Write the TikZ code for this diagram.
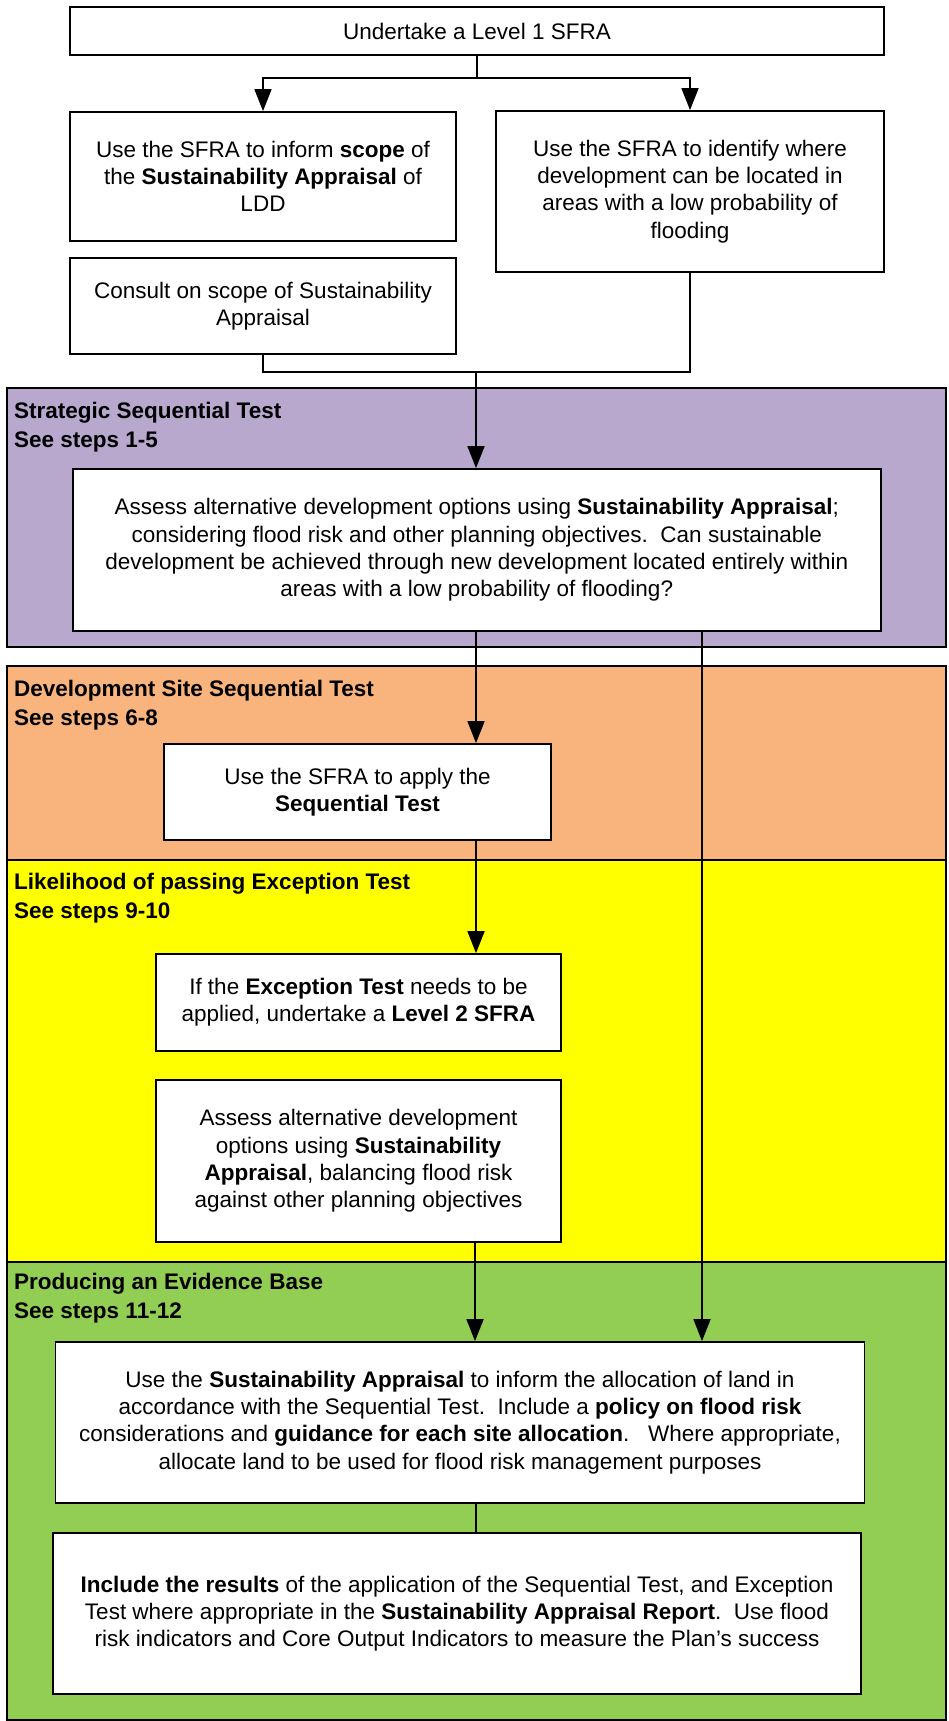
\documentclass[tikz,border=0pt]{standalone}
\usepackage{fontspec}
\setmainfont{Liberation Sans}
\usetikzlibrary{arrows.meta, positioning, calc}
\definecolor{panelpurple}{RGB}{184,168,206}
\definecolor{panelorange}{RGB}{248,180,124}
\definecolor{panelyellow}{RGB}{255,255,0}
\definecolor{panelgreen}{RGB}{146,206,84}

\begin{document}
\begin{tikzpicture}[x=1pt,y=-1pt,
  stepbox/.style={draw=black,line width=1.8pt,fill=white,inner sep=0pt,align=center,
    font=\fontsize{22.5}{27.3}\selectfont},
  panel/.style={draw=black,line width=1.8pt},
  heading/.style={anchor=west,align=left,inner sep=0pt,
    font=\fontsize{22.5}{28.5}\selectfont\bfseries},
  link/.style={line width=1.8pt},
  flow/.style={link,-{Triangle[length=22pt,width=17pt]}}]
\useasboundingbox (0,0) rectangle (948,1721);
% Stage panels
\draw[panel,fill=panelpurple] (7,388) rectangle (946,647);
\draw[panel,fill=panelorange] (7,666) rectangle (946,860);
\draw[panel,fill=panelyellow] (7,860) rectangle (946,1262);
\draw[panel,fill=panelgreen] (7,1262) rectangle (946,1720);
\node[heading] (hstrat) at (14,427) {Strategic Sequential Test\\See steps 1-5};
\node[heading] (hsite) at (14,705) {Development Site Sequential Test\\See steps 6-8};
\node[heading] (hexcept) at (14,898) {Likelihood of passing Exception Test\\See steps 9-10};
\node[heading] (hevid) at (14,1298) {Producing an Evidence Base\\See steps 11-12};
% Level 1 stage
\node[stepbox,minimum width=814pt,minimum height=48pt] (lvl1) at (477,31) {Undertake a Level 1 SFRA};
\node[stepbox,minimum width=386pt,minimum height=129pt] (scope) at (263,176.5)
  {Use the SFRA to inform \textbf{scope} of\\the \textbf{Sustainability Appraisal} of\\LDD};
\node[stepbox,minimum width=388pt,minimum height=161pt] (locate) at (690,191.5)
  {Use the SFRA to identify where\\development can be located in\\areas with a low probability of\\flooding};
\node[stepbox,minimum width=386pt,minimum height=96pt] (consult) at (263,306)
  {Consult on scope of Sustainability\\Appraisal};
% Test stages
\node[stepbox,minimum width=808pt,minimum height=162pt] (assess) at (476.75,550)
  {Assess alternative development options using \textbf{Sustainability Appraisal};\\
   considering flood risk and other planning objectives.\ \ Can sustainable\\
   development be achieved through new development located entirely within\\
   areas with a low probability of flooding?};
\node[stepbox,minimum width=387pt,minimum height=96pt] (seqtest) at (357.5,792)
  {Use the SFRA to apply the\\\textbf{Sequential Test}};
\node[stepbox,minimum width=405pt,minimum height=97pt] (exception) at (358.5,1002.5)
  {If the \textbf{Exception Test} needs to be\\applied, undertake a \textbf{Level 2 SFRA}};
\node[stepbox,minimum width=405pt,minimum height=162pt] (balance) at (358.5,1161)
  {Assess alternative development\\options using \textbf{Sustainability}\\
   \textbf{Appraisal}, balancing flood risk\\against other planning objectives};
\node[stepbox,minimum width=809pt,minimum height=161pt] (allocate) at (460,1422.5)
  {Use the \textbf{Sustainability Appraisal} to inform the allocation of land in\\
   accordance with the Sequential Test.\ \ Include a \textbf{policy on flood risk}\\
   considerations and \textbf{guidance for each site allocation}.\ \ \ Where appropriate,\\
   allocate land to be used for flood risk management purposes};
\node[stepbox,minimum width=808pt,minimum height=161pt] (results) at (457,1613.5)
  {\textbf{Include the results} of the application of the Sequential Test, and Exception\\
   Test where appropriate in the \textbf{Sustainability Appraisal Report}.\ \ Use flood\\
   risk indicators and Core Output Indicators to measure the Plan's success};
% Connectors
\coordinate (split) at (lvl1.south |- 0,78);
\draw[link] (lvl1.south) -- (split);
\draw[flow] (split) -| (scope.north);
\draw[flow] (split) -| (locate.north);
\coordinate (join) at (476,372);
\draw[link] (consult.south) |- (join);
\draw[link] (locate.south) |- (join);
\draw[flow] (join) -- (join |- assess.north);
\draw[flow] (476,0 |- assess.south) -- (476,0 |- seqtest.north);
\draw[flow] (702,0 |- assess.south) -- (702,0 |- allocate.north);
\draw[flow] (476,0 |- seqtest.south) -- (476,0 |- exception.north);
\draw[flow] (475,0 |- balance.south) -- (475,0 |- allocate.north);
\draw[link] (476,0 |- allocate.south) -- (476,0 |- results.north);
\end{tikzpicture}
\end{document}
